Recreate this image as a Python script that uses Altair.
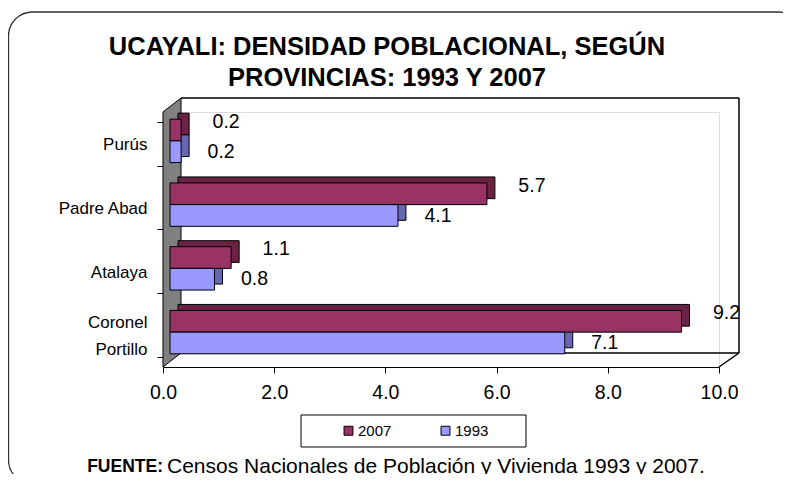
import altair as alt
import pandas as pd

# ---------------- data ----------------
provincias = ["Purús", "Padre Abad", "Atalaya", "Coronel Portillo"]
dens_2007 = [0.2, 5.7, 1.1, 9.2]
dens_1993 = [0.2, 4.1, 0.8, 7.1]
series = ["2007", "1993"]
series_colors = ["#993366", "#9999FF"]
shade_colors = ["#6b2245", "#6868b0"]
x_ticks = [0, 2, 4, 6, 8, 10]

title_lines = ["UCAYALI: DENSIDAD POBLACIONAL, SEGÚN", "PROVINCIAS: 1993 Y 2007"]
fuente_bold = "FUENTE:"
fuente_text = "Censos Nacionales de Población y Vivienda 1993 y 2007."

df = pd.DataFrame({
    "provincia": provincias * 2,
    "serie": [series[0]] * 4 + [series[1]] * 4,
    "valor": dens_2007 + dens_1993,
})

FONT = "Liberation Sans"
W, H = 556, 255
BAR_H = 21.7
FX, FY = 7, -3      # front face offset (pixels)
DX, DY = 8, -6      # 3D depth of bars (pixels)

y_enc = alt.Y(
    "provincia:N", sort=provincias,
    scale=alt.Scale(paddingInner=0.32, paddingOuter=0.16),
    axis=alt.Axis(title=None, domain=False, tickBand="extent", tickSize=6,
                  tickColor="black", labelPadding=10, labelFontSize=17,
                  labelFont=FONT, labelColor="black", labelLineHeight=27,
                  labelOffset={"condition": {"test": "datum.value == 'Coronel Portillo'", "value": -13},
                               "value": 1},
                  labelExpr="datum.label == 'Coronel Portillo' ? ['Coronel', 'Portillo'] : datum.label"),
)
x_enc = alt.X(
    "valor:Q",
    scale=alt.Scale(domain=[0, 10], nice=False, zero=True),
    axis=alt.Axis(title=None, values=x_ticks, format=".1f", grid=False,
                  domainColor="black", domainWidth=1.2, tickColor="black",
                  tickSize=6, labelPadding=10, labelFontSize=19.5, labelFont=FONT,
                  labelColor="black", labelFlush=False),
)

base = alt.Chart(df)

def sel(s):
    return alt.datum.serie == s

def shadow(i, sign):
    return base.transform_filter(sel(series[i])).mark_bar(
        height=BAR_H, xOffset=FX + DX, yOffset=FY + DY + sign * BAR_H / 2,
        color=shade_colors[i], stroke="black", strokeWidth=1,
    ).encode(x=x_enc, y=y_enc)

def front(i, sign):
    return base.transform_filter(sel(series[i])).mark_bar(
        height=BAR_H, xOffset=FX, yOffset=FY + sign * BAR_H / 2,
        stroke="black", strokeWidth=1, opacity=1,
    ).encode(
        x=x_enc, y=y_enc,
        color=alt.Color("serie:N", scale=alt.Scale(domain=series, range=series_colors),
                        legend=alt.Legend(title=None, orient="none", legendX=178, legendY=311,
                                          direction="horizontal", symbolType="square",
                                          symbolSize=80, symbolStrokeColor="black",
                                          symbolStrokeWidth=1, symbolOpacity=1,
                                          labelFontSize=15, labelFont=FONT,
                                          labelColor="black", labelOffset=2,
                                          columnPadding=46, padding=0)),
    )

def labels(i, dx, yoff):
    return base.transform_filter(sel(series[i])).mark_text(
        align="center", baseline="middle", dx=dx, yOffset=yoff,
        fontSize=19.5, font=FONT, color="black",
    ).encode(x=x_enc, y=y_enc, text=alt.Text("valor:Q", format=".1f"))

# ---------------- decorations (pixel coordinates) ----------------
frame_lines = pd.DataFrame({
    "x": [18, 576, 18, 576],
    "y": [-14, -14, 241, 241],
    "x2": [576, 576, 576, 556],
    "y2": [-14, 241, 241, 255],
})
wall = pd.DataFrame({"x": [0, 18], "y": [0, -14], "y2": [255, 241]})

one = pd.DataFrame({"a": [0]})

outer = alt.Chart(one).mark_rect(
    fillOpacity=0, stroke="#333333", strokeWidth=1.3, cornerRadius=24
).encode(x=alt.value(-154.5), x2=alt.value(640), y=alt.value(-100), y2=alt.value(372))

wall_area = alt.Chart(wall).mark_area(
    color="#808080", stroke="black", strokeWidth=1, opacity=1
).encode(
    x=alt.X("x:Q", scale=None), y=alt.Y("y:Q", scale=None), y2="y2:Q"
)

back_lines = alt.Chart(frame_lines).mark_rule(color="black", strokeWidth=1.5).encode(
    x=alt.X("x:Q", scale=None), y=alt.Y("y:Q", scale=None), x2="x2:Q", y2="y2:Q"
)

legend_box = alt.Chart(one).mark_rect(
    fill="white", stroke="black", strokeWidth=1
).encode(x=alt.value(138), x2=alt.value(363), y=alt.value(303), y2=alt.value(335))

def text_at(t, x, y, **kw):
    return alt.Chart(pd.DataFrame({"t": [t]})).mark_text(
        font=FONT, color="black", baseline="middle", **kw
    ).encode(x=alt.value(x), y=alt.value(y), text="t:N")

title1 = text_at(title_lines[0], 224, -65, fontSize=25.5, fontWeight="bold", align="center")
title2 = text_at(title_lines[1], 224, -34, fontSize=25.5, fontWeight="bold", align="center")
src1 = text_at(fuente_bold, 0, 355, fontSize=17.5, fontWeight="bold", align="right")
src2 = text_at(fuente_text, 4, 355, fontSize=21, align="left")

chart = alt.layer(
    outer, wall_area, back_lines, legend_box,
    shadow(0, -1), shadow(1, 1),
    front(0, -1), front(1, 1),
    labels(0, 52, -22), labels(1, 47, 8),
    title1, title2, src1, src2,
).properties(
    width=W, height=H,
    autosize=alt.AutoSizeParams(type="none"),
    padding={"left": 155, "top": 104, "right": 64, "bottom": 107},
).configure_view(stroke=None).configure(background="white")

chart.save("out.html", embed_options={"renderer": "svg", "actions": False})
